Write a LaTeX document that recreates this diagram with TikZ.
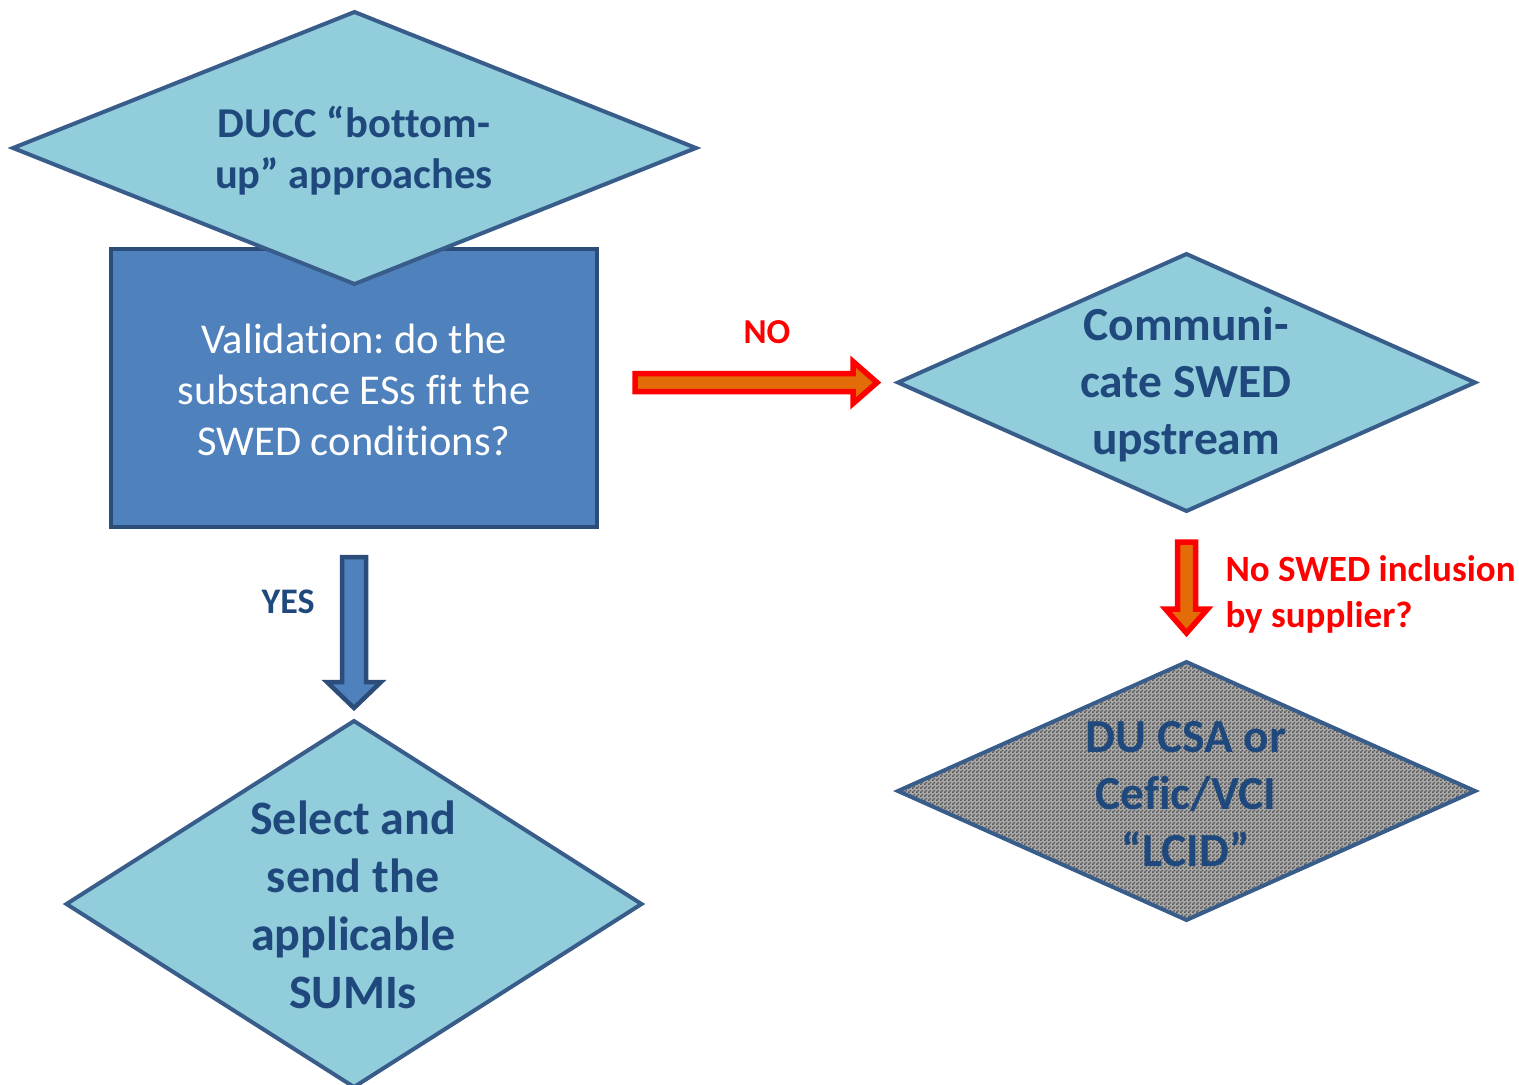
\documentclass[tikz,border=0pt]{standalone}
\usepackage{fontspec}
\setmainfont{Carlito}[Ligatures=NoCommon]
\usetikzlibrary{shapes.geometric,calc,patterns}
\pgfdeclarepatternformonly{finecheck}{\pgfpointorigin}{\pgfpoint{4pt}{4pt}}{\pgfpoint{4pt}{4pt}}{%
  \pgfpathrectangle{\pgfpointorigin}{\pgfpoint{2pt}{2pt}}%
  \pgfpathrectangle{\pgfpoint{2pt}{2pt}}{\pgfpoint{2pt}{2pt}}%
  \pgfusepath{fill}}
\definecolor{dfill}{HTML}{92CDDC}
\definecolor{dline}{HTML}{385D8A}
\definecolor{dtext}{HTML}{1F497D}
\definecolor{rfill}{HTML}{4F81BD}
\definecolor{rline}{HTML}{2C4D7A}
\definecolor{aorange}{HTML}{E36C09}
\definecolor{ared}{HTML}{FF0000}
\definecolor{glight}{HTML}{AAAAAA}
\definecolor{gdark}{HTML}{555555}
\tikzset{
  dia/.style={diamond, draw=dline, line width=4pt, fill=dfill, inner sep=0pt, outer sep=0pt},
  diatext/.style={text=dtext, align=center, font=\bfseries},
  rectbox/.style={rectangle, draw=rline, line width=3.5pt, fill=rfill, inner sep=0pt, outer sep=0pt},
  redarrow/.style={draw=ared, fill=aorange, line width=5.5pt, line join=miter},
  bluearrow/.style={draw=rline, fill=rfill, line width=4.5pt, line join=miter},
  redlabel/.style={text=ared, font=\bfseries},
}
\frenchspacing
\begin{document}
\begin{tikzpicture}[x=1pt,y=-1pt]
\useasboundingbox (0,0) rectangle (1519,1085);
% validation box
\node[rectbox, minimum width=486pt, minimum height=278pt] (val) at (354,388) {};
\node[text=white, align=center, font=\fontsize{42.5}{51}\selectfont] (valtext) at (354,390)
  {Validation: do the\\substance ESs fit the\\SWED conditions?};
% top diamond
\node[dia, minimum width=683pt, minimum height=272pt] (ducc) at (354.5,148) {};
\node[diatext, font=\bfseries\fontsize{42.5}{51}\selectfont] (ducctext) at (354,151)
  {DUCC “bottom-\\up” approaches};
% communicate diamond
\node[dia, minimum width=577pt, minimum height=257pt] (comm) at (1186.5,382.5) {};
\node[diatext, font=\bfseries\fontsize{47.5}{57}\selectfont] (commtext) at (1186,385)
  {Communi-\\cate SWED\\upstream};
% grey diamond
\node[diamond, draw=dline, line width=4pt, inner sep=0pt, outer sep=0pt,
      preaction={fill=glight}, pattern=finecheck, pattern color=gdark,
      minimum width=577pt, minimum height=258pt] (lcid) at (1186.5,791) {};
\node[diatext, font=\bfseries\fontsize{47.5}{57}\selectfont] (lcidtext) at (1186,794)
  {DU CSA or\\Cefic/VCI\\“LCID”};
% select diamond
\node[dia, minimum width=575pt, minimum height=366pt] (sel) at (354,904) {};
\node[diatext, font=\bfseries\fontsize{48}{58}\selectfont] (seltext) at (353,905)
  {Select and\\send the\\applicable\\SUMIs};
% NO arrow
\coordinate (noA) at ($(val.east |- comm.west)+(38,0)$);
\coordinate (noB) at ($(comm.west)+(-21,0)$);
\draw[redarrow] ($(noA)+(0,-9)$) -- ($(noB)+(-24,-9)$) -- ($(noB)+(-24,-21)$) -- (noB)
  -- ($(noB)+(-24,21)$) -- ($(noB)+(-24,9)$) -- ($(noA)+(0,9)$) -- cycle;
\node[redlabel, font=\bfseries\fontsize{35}{40}\selectfont] (nolab) at (767,332) {NO};
% down red arrow
\coordinate (dnA) at ($(comm.south)+(0,31)$);
\coordinate (dnB) at ($(lcid.north)+(0,-29)$);
\draw[redarrow] ($(dnA)+(-9,0)$) -- ($(dnB)+(-9,-24)$) -- ($(dnB)+(-21,-24)$) -- (dnB)
  -- ($(dnB)+(21,-24)$) -- ($(dnB)+(9,-24)$) -- ($(dnA)+(9,0)$) -- cycle;
\node[redlabel, anchor=west, align=left, font=\bfseries\fontsize{37}{46}\selectfont] (nosup) at (1222,594)
  {No SWED inclusion\\by supplier?};
% YES arrow
\coordinate (yA) at ($(val.south)+(0,30)$);
\coordinate (yB) at ($(sel.north)+(0,-13)$);
\draw[bluearrow] ($(yA)+(-12,0)$) -- ($(yB)+(-12,-26)$) -- ($(yB)+(-27,-26)$) -- (yB)
  -- ($(yB)+(27,-26)$) -- ($(yB)+(12,-26)$) -- ($(yA)+(12,0)$) -- cycle;
\node[text=dtext, font=\bfseries\fontsize{36}{40}\selectfont] (yeslab) at (288,602) {YES};
\end{tikzpicture}
\end{document}
